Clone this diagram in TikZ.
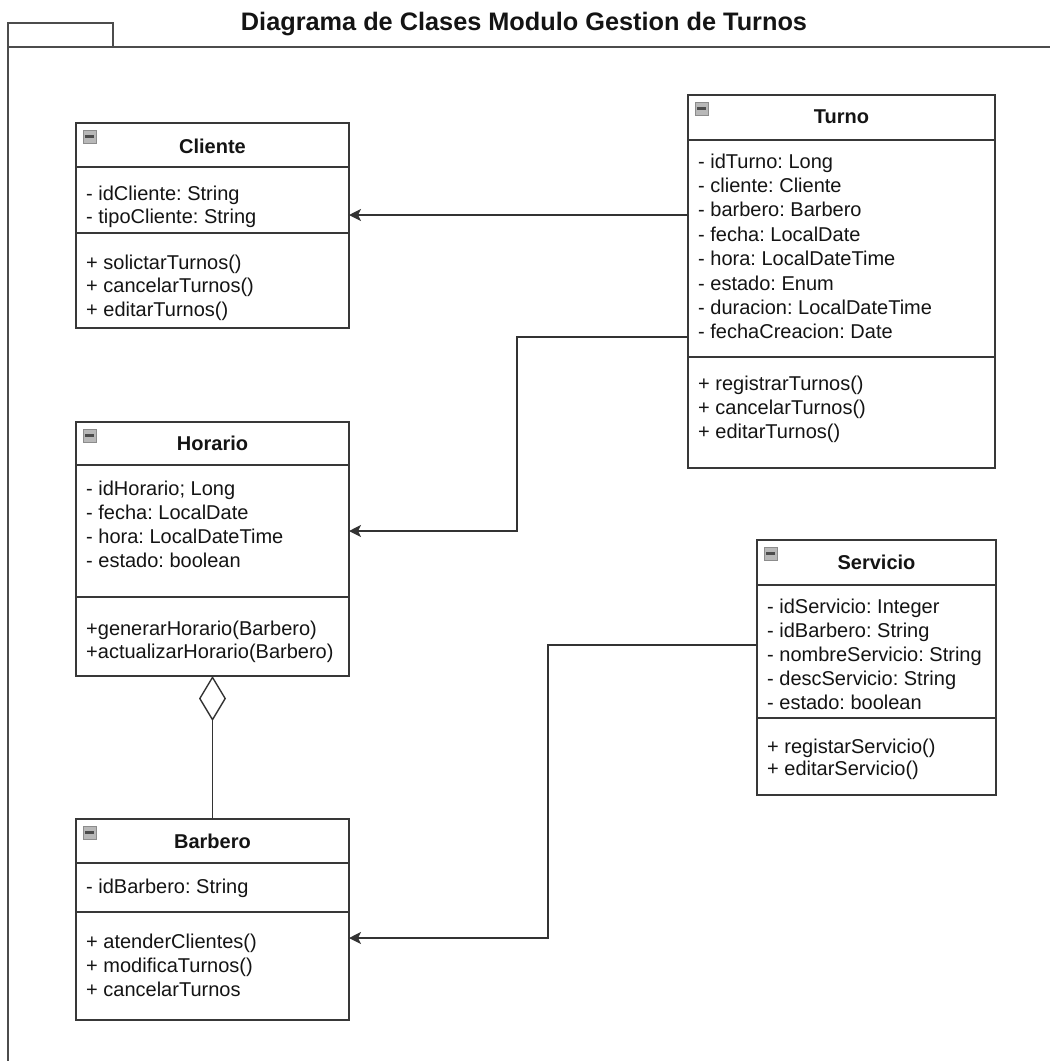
\documentclass[tikz,border=0pt]{standalone}
\usepackage{fontspec}
\setmainfont{Liberation Sans}
\usetikzlibrary{arrows.meta,calc}

% one column of member lines: prefix, x, first baseline, step, entries
\newcommand\memberlines[5]{%
  \foreach \t [count=\i] in {#5}
    \node[member] (#1\i) at (#2,{#3+(\i-1)*#4}) {\t};}

\tikzset{
  classbox/.style={draw=black!78, line width=1.6pt, fill=white, inner sep=0pt,
    outer sep=0pt, anchor=north west},
  divider/.style={draw=black!78, line width=1.6pt},
  member/.style={anchor=base west, inner sep=0pt, text=black!92,
    font=\frenchspacing\fontsize{20}{24}\selectfont},
  classname/.style={anchor=base, inner sep=0pt, text=black!92,
    font=\bfseries\fontsize{20}{24}\selectfont},
  foldicon/.style={anchor=north west, draw=black!45, fill=black!28,
    line width=0.6pt, minimum size=13pt, inner sep=0pt},
  assoc/.style={draw=black!80, line width=1.4pt,
    -{Stealth[length=12pt,width=12pt,inset=3pt]}},
  aggreg/.style={draw=black!80, line width=1.4pt,
    -{Diamond[open,length=45pt,width=27pt,fill=white]}},
  frame/.style={draw=black!70, line width=1.6pt}
}

\begin{document}
\frenchspacing
\begin{tikzpicture}[x=1pt,y=-1pt]
\useasboundingbox (0,0) rectangle (1050,1061);

% package frame with its tab
\draw[frame] (8,1063) -- (8,23) -- (113,23) -- (113,47);
\draw[frame] (8,47) -- (1052,47);

\node[anchor=base, inner sep=0pt, text=black!92,
  font=\bfseries\fontsize{25.3}{30}\selectfont] (title) at (524,30)
  {Diagrama de Clases Modulo Gestion de Turnos};

% ---------- Cliente ----------
\node[classbox, minimum width=273pt, minimum height=205pt] (cliente) at (76,123) {};
\draw[divider] (cliente.west |- 0,167) -- (cliente.east |- 0,167);
\draw[divider] (cliente.west |- 0,233) -- (cliente.east |- 0,233);
\node[foldicon] (cliente-ic) at ($(cliente.north west)+(7,7)$)
  {\color{black!70}\rule{9pt}{2.8pt}};
\node[classname] (cliente-name) at (212.5,153) {Cliente};
\memberlines{cliente-a}{86}{200}{23.5}{- idCliente: String, - tipoCliente: String}
\memberlines{cliente-m}{86}{269}{23.5}{+ solictarTurnos(), + cancelarTurnos(), + editarTurnos()}

% ---------- Turno ----------
\node[classbox, minimum width=307pt, minimum height=373pt] (turno) at (688,95) {};
\draw[divider] (turno.west |- 0,140) -- (turno.east |- 0,140);
\draw[divider] (turno.west |- 0,357) -- (turno.east |- 0,357);
\node[foldicon] (turno-ic) at ($(turno.north west)+(7,7)$)
  {\color{black!70}\rule{9pt}{2.8pt}};
\node[classname] (turno-name) at (841.5,123) {Turno};
\memberlines{turno-a}{698}{168}{24.4}{- idTurno: Long, - cliente: Cliente,
  - barbero: Barbero, - fecha: LocalDate, - hora: LocalDateTime,
  - estado: Enum, - duracion: LocalDateTime, - fechaCreacion: Date}
\memberlines{turno-m}{698}{390}{24.2}{+ registrarTurnos(), + cancelarTurnos(), + editarTurnos()}

% ---------- Horario ----------
\node[classbox, minimum width=273pt, minimum height=254pt] (horario) at (76,422) {};
\draw[divider] (horario.west |- 0,465) -- (horario.east |- 0,465);
\draw[divider] (horario.west |- 0,597) -- (horario.east |- 0,597);
\node[foldicon] (horario-ic) at ($(horario.north west)+(7,7)$)
  {\color{black!70}\rule{9pt}{2.8pt}};
\node[classname] (horario-name) at (212.5,450) {Horario};
\memberlines{horario-a}{86}{495}{24}{- idHorario; Long, - fecha: LocalDate,
  - hora: LocalDateTime, - estado: boolean}
\memberlines{horario-m}{86}{635}{23.5}{+generarHorario(Barbero), +actualizarHorario(Barbero)}

% ---------- Barbero ----------
\node[classbox, minimum width=273pt, minimum height=201pt] (barbero) at (76,819) {};
\draw[divider] (barbero.west |- 0,863) -- (barbero.east |- 0,863);
\draw[divider] (barbero.west |- 0,912) -- (barbero.east |- 0,912);
\node[foldicon] (barbero-ic) at ($(barbero.north west)+(7,7)$)
  {\color{black!70}\rule{9pt}{2.8pt}};
\node[classname] (barbero-name) at (212.5,848) {Barbero};
\memberlines{barbero-a}{86}{893}{24}{- idBarbero: String}
\memberlines{barbero-m}{86}{948}{24}{+ atenderClientes(), + modificaTurnos(), + cancelarTurnos}

% ---------- Servicio ----------
\node[classbox, minimum width=239pt, minimum height=255pt] (servicio) at (757,540) {};
\draw[divider] (servicio.west |- 0,585) -- (servicio.east |- 0,585);
\draw[divider] (servicio.west |- 0,718) -- (servicio.east |- 0,718);
\node[foldicon] (servicio-ic) at ($(servicio.north west)+(7,7)$)
  {\color{black!70}\rule{9pt}{2.8pt}};
\node[classname] (servicio-name) at (876.5,569) {Servicio};
\memberlines{servicio-a}{767}{613}{24.2}{- idServicio: Integer, - idBarbero: String,
  - nombreServicio: String, - descServicio: String, - estado: boolean}
\memberlines{servicio-m}{767}{753}{22.5}{+ registarServicio(), + editarServicio()}

% ---------- relations ----------
\draw[assoc] (turno.west |- 0,215) -- (cliente.east |- 0,215);
\draw[assoc] (turno.west |- 0,337) -| (517,434) |- (horario.east |- 0,531);
\draw[assoc] (servicio.west |- 0,645) -| (548,800) |- (barbero.east |- 0,938);
\draw[aggreg] (barbero.north) -- (horario.south);

\end{tikzpicture}
\end{document}
